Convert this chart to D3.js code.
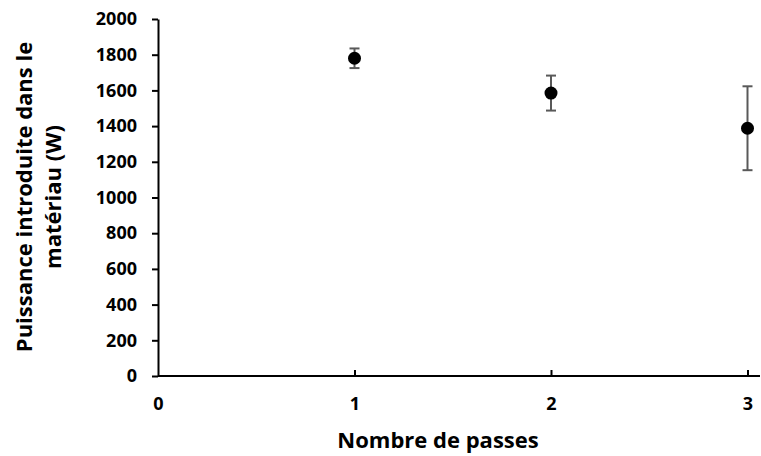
<!DOCTYPE html>
<html><head><meta charset="utf-8">
<script src="https://cdn.jsdelivr.net/npm/d3@7"></script>
<style>body{margin:0;background:#fff}svg{display:block}</style>
</head><body>
<svg id="c" width="761" height="456"></svg>
<script>
const passes = [1, 2, 3];
const puissance = [1780, 1585, 1388];
const erreur = [55, 98, 235];
const xTicks = [0, 1, 2, 3];
const yTicks = [0, 200, 400, 600, 800, 1000, 1200, 1400, 1600, 1800, 2000];
const xTitle = "Nombre de passes";
const yTitle = ["Puissance introduite dans le", "matériau (W)"];

const svg = d3.select("#c");
const font = "'Open Sans', sans-serif";
const x = d3.scaleLinear().domain([0, 3]).range([158, 747.5]);
const y = d3.scaleLinear().domain([0, 2000]).range([376, 19]);

const yAxis = svg.append("g").attr("transform", "translate(158,0)")
  .call(d3.axisLeft(y).tickValues(yTicks).tickFormat(d3.format("d")).tickSize(6).tickPadding(15).tickSizeOuter(0));
const xAxis = svg.append("g").attr("transform", "translate(0,376)")
  .call(d3.axisBottom(x).tickValues(xTicks).tickFormat(d3.format("d")).tickSize(-6).tickPadding(21).tickSizeOuter(0));
[yAxis, xAxis].forEach(a => {
  a.selectAll("path,line").attr("stroke", "#000").attr("stroke-width", 2);
  a.selectAll("text").attr("font-family", font).attr("font-weight", "bold")
    .attr("font-size", 18).attr("fill", "#000");
});
xAxis.select("path").attr("d", "M158,0H760");
xAxis.selectAll(".tick").filter(d => d === 0).select("line").remove();

const g = svg.append("g");
passes.forEach((p, i) => {
  const cx = x(p), lo = y(puissance[i] - erreur[i]), hi = y(puissance[i] + erreur[i]);
  g.append("line").attr("x1", cx).attr("x2", cx).attr("y1", lo).attr("y2", hi)
    .attr("stroke", "#595959").attr("stroke-width", 2);
  [lo, hi].forEach(yy => g.append("line").attr("x1", cx - 5).attr("x2", cx + 5)
    .attr("y1", yy).attr("y2", yy).attr("stroke", "#595959").attr("stroke-width", 2));
});
g.selectAll("circle").data(passes).join("circle")
  .attr("cx", d => x(d)).attr("cy", (d, i) => y(puissance[i])).attr("r", 6.5).attr("fill", "#000");

svg.append("text").attr("x", 438).attr("y", 448).attr("text-anchor", "middle")
  .attr("font-family", font).attr("font-weight", "bold").attr("font-size", 22).text(xTitle);
yTitle.forEach((t, i) => {
  svg.append("text").attr("transform", `translate(${32 + i * 29},197) rotate(-90)`)
    .attr("text-anchor", "middle").attr("font-family", font).attr("font-weight", "bold")
    .attr("font-size", 22).text(t);
});
</script>
</body></html>
